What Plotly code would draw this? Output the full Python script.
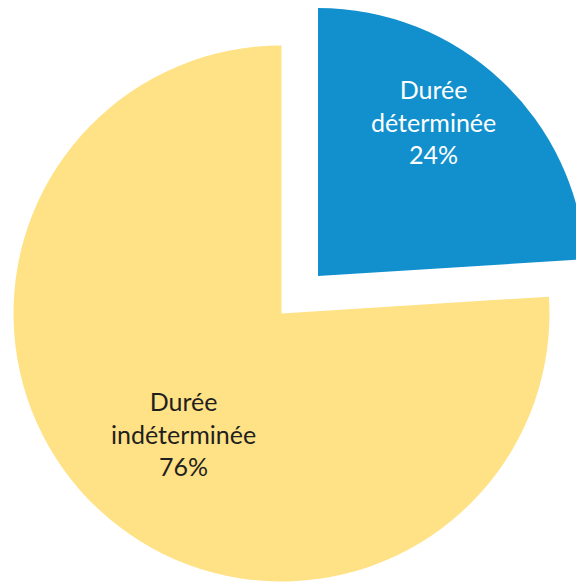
import plotly.graph_objects as go

labels = ["Durée déterminée", "Durée indéterminée"]
values = [24, 76]
percent_text = ["24%", "76%"]
label_lines = ["Durée<br>déterminée", "Durée<br>indéterminée"]

BLUE = "rgb(17,144,205)"
YELLOW = "rgb(255,226,133)"
CLEAR = "rgba(0,0,0,0)"

W, H = 584, 583
OFF = 8  # page body margin


def dom(cx, cy, r):
    cx -= OFF
    cy -= OFF
    return dict(x=[max(0, (cx - r) / W), min(1, (cx + r) / W)],
                y=[max(0, 1 - (cy + r) / H), min(1, 1 - (cy - r) / H)])


def paper(px, py):
    return (px - OFF) / W, 1 - (py - OFF) / H


common = dict(labels=labels, values=values, sort=False, direction="clockwise",
              rotation=0, textinfo="none", hoverinfo="skip",
              showlegend=False, marker_line_width=0)

fig = go.Figure()
# main (yellow) slice
fig.add_trace(go.Pie(**common, marker_colors=[CLEAR, YELLOW],
                     domain=dom(281.5, 313.5, 268)))
# exploded (blue) slice
fig.add_trace(go.Pie(**common, marker_colors=[BLUE, CLEAR],
                     domain=dom(318, 276, 268)))

label_pos = [paper(433, 122), paper(183, 433)]
label_colors = ["white", "#1f1f1f"]
for i in range(len(labels)):
    x, y = label_pos[i]
    fig.add_annotation(x=x, y=y, xref="paper", yref="paper",
                       xanchor="center", yanchor="middle", showarrow=False,
                       text=f"{label_lines[i]}<br>{percent_text[i]}",
                       font=dict(family="Lato", size=25, color=label_colors[i]))

fig.update_layout(width=W, height=H, margin=dict(l=0, r=0, t=0, b=0),
                  paper_bgcolor="white", plot_bgcolor="white")
fig.write_html("out.html")
